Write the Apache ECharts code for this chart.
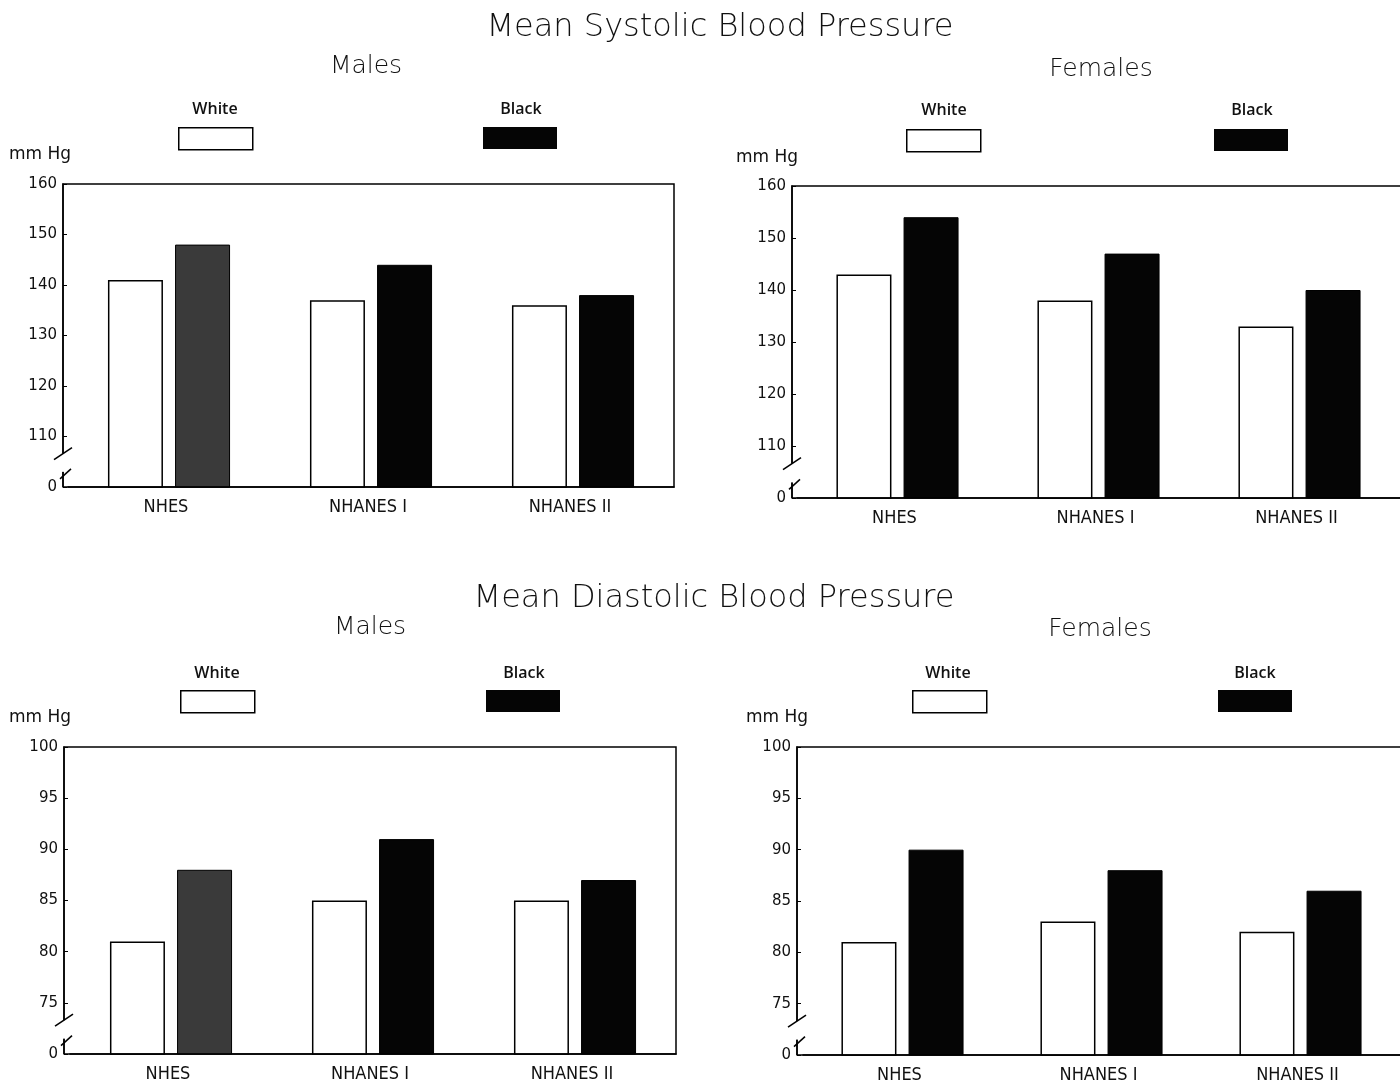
<!DOCTYPE html>
<html>
<head>
<meta charset="utf-8">
<script src="https://cdn.jsdelivr.net/npm/echarts@6/dist/echarts.min.js"></script>
<style>
html,body{margin:0;padding:0;background:#fff;}
#c{width:1400px;height:1084px;}
</style>
</head>
<body>
<div id="c"></div>
<script>
// ---- data ----
const categories = ['NHES', 'NHANES I', 'NHANES II'];
const seriesNames = ['White', 'Black'];
const sysMaleWhite = [141, 137, 136];
const sysMaleBlack = [148, 144, 138];
const sysFemaleWhite = [143, 138, 133];
const sysFemaleBlack = [154, 147, 140];
const diaMaleWhite = [81, 85, 85];
const diaMaleBlack = [88, 91, 87];
const diaFemaleWhite = [81, 83, 82];
const diaFemaleBlack = [90, 88, 86];
const sysTickLabels = ['0', '110', '120', '130', '140', '150', '160'];
const diaTickLabels = ['0', '75', '80', '85', '90', '95', '100'];

// ---- layout ----
// frame = drawn box; plot = category domain (starts a little right of the y axis)
const panels = [
  {frame: {l: 63, t: 184, r: 674, b: 487}, plotLeft: 68, plotWidth: 606, min: 100, max: 160, interval: 10, ticks: sysTickLabels, white: sysMaleWhite, black: sysMaleBlack, male: true},
  {frame: {l: 792, t: 186, r: 1407, b: 498}, plotLeft: 797, plotWidth: 609, min: 100, max: 160, interval: 10, ticks: sysTickLabels, white: sysFemaleWhite, black: sysFemaleBlack, male: false},
  {frame: {l: 64, t: 747, r: 676, b: 1054}, plotLeft: 70, plotWidth: 606, min: 70, max: 100, interval: 5, ticks: diaTickLabels, white: diaMaleWhite, black: diaMaleBlack, male: true},
  {frame: {l: 797, t: 747, r: 1409, b: 1055}, plotLeft: 803, plotWidth: 605, min: 70, max: 100, interval: 5, ticks: diaTickLabels, white: diaFemaleWhite, black: diaFemaleBlack, male: false}
];

const chart = echarts.init(document.getElementById('c'), null, {renderer: 'canvas'});

const grids = [], xAxes = [], yAxes = [], series = [], frames = [];
panels.forEach((p, i) => {
  const f = p.frame;
  grids.push({show: false, left: p.plotLeft, top: f.t, width: p.plotWidth, height: f.b - f.t});
  xAxes.push({
    type: 'category', gridIndex: i, data: categories,
    axisLine: {show: true, lineStyle: {color: '#000', width: 1.5}},
    axisTick: {show: false},
    axisLabel: {color: '#111', fontSize: 18, fontFamily: 'Liberation Sans Narrow, DejaVu Sans Condensed, sans-serif', margin: 11, padding: [0, 6, 0, 0]}
  });
  yAxes.push({
    type: 'value', gridIndex: i, min: p.min, max: p.max, interval: p.interval,
    offset: p.plotLeft - f.l,
    axisLine: {show: true, lineStyle: {color: '#000', width: 1.5}},
    axisTick: {show: true, inside: true, length: 4, lineStyle: {color: '#000'}},
    splitLine: {show: false},
    axisLabel: {
      color: '#111', fontSize: 15, fontFamily: 'DejaVu Sans, sans-serif', margin: 6,
      formatter: (v) => p.ticks[Math.round((v - p.min) / p.interval)]
    }
  });
  series.push({
    type: 'bar', name: seriesNames[0], xAxisIndex: i, yAxisIndex: i,
    data: p.white, barWidth: 55, barGap: '22%',
    itemStyle: {color: '#fff', borderColor: '#000', borderWidth: 1.5}
  });
  series.push({
    type: 'bar', name: seriesNames[1], xAxisIndex: i, yAxisIndex: i,
    data: p.black.map((v, j) => (p.male && j === 0) ? {value: v, itemStyle: {color: '#3a3a3a'}} : v),
    barWidth: 55, barGap: '22%',
    itemStyle: {color: '#050505', borderColor: '#000', borderWidth: 1}
  });
  frames.push({type: 'polyline', z: 99, shape: {points: [[f.l, f.b], [f.l, f.t], [f.r, f.t], [f.r, f.b], [f.l, f.b]]}, style: {stroke: '#000', lineWidth: 1.5, fill: null}});
});

// legends (boxes); labels drawn as text above
const legendBoxes = [
  {name: 'White', left: 178, top: 127}, {name: 'Black', left: 483, top: 127},
  {name: 'White', left: 906, top: 129}, {name: 'Black', left: 1214, top: 129},
  {name: 'White', left: 180, top: 690}, {name: 'Black', left: 486, top: 690},
  {name: 'White', left: 912, top: 690}, {name: 'Black', left: 1218, top: 690}
];
const legends = legendBoxes.map(b => ({
  left: b.left, top: b.top, padding: 0, itemWidth: 74, itemHeight: 22, icon: 'rect',
  selectedMode: false, formatter: () => '',
  data: [{name: b.name, itemStyle: b.name === 'White' ? {color: '#fff', borderColor: '#000', borderWidth: 1.5} : {color: '#050505', borderWidth: 0}}]
}));

const titleFont = '300 32px "DejaVu Sans", sans-serif';
const subFont = '300 25px "DejaVu Sans", sans-serif';
const legFont = '600 16px "Open Sans", "DejaVu Sans", sans-serif';
const unitFont = '17px "DejaVu Sans", sans-serif';
function txt(text, x, y, font, align) {
  return {type: 'text', x: x, y: y, z: 100, style: {text: text, font: font, fill: '#111', align: align || 'center', verticalAlign: 'middle'}};
}
const texts = [
  txt('Mean Systolic Blood Pressure', 720, 28, titleFont),
  txt('Males', 366, 66, subFont),
  txt('Females', 1101, 69, subFont),
  txt('White', 215, 109, legFont), txt('Black', 521, 109, legFont),
  txt('White', 944, 110, legFont), txt('Black', 1252, 110, legFont),
  txt('mm Hg', 9, 155, unitFont, 'left'),
  txt('mm Hg', 736, 158, unitFont, 'left'),
  txt('Mean Diastolic Blood Pressure', 714, 599, titleFont),
  txt('Males', 370, 627, subFont),
  txt('Females', 1100, 629, subFont),
  txt('White', 217, 673, legFont), txt('Black', 524, 673, legFont),
  txt('White', 948, 673, legFont), txt('Black', 1255, 673, legFont),
  txt('mm Hg', 9, 718, unitFont, 'left'),
  txt('mm Hg', 746, 718, unitFont, 'left')
];

chart.setOption({
  animation: false,
  backgroundColor: '#fff',
  grid: grids, xAxis: xAxes, yAxis: yAxes, series: series,
  legend: legends,
  graphic: {elements: texts.concat(frames)}
});

// axis break marks, placed through the axis scale
const breaks = [];
panels.forEach((p, i) => {
  const range = p.max - p.min;
  const yUp = chart.convertToPixel({yAxisIndex: i}, p.min + range * 0.11);
  const yLo = chart.convertToPixel({yAxisIndex: i}, p.min + range * 0.05);
  const x = p.frame.l;
  breaks.push({type: 'rect', z: 101, shape: {x: x - 2, y: yUp, width: 4, height: yLo - yUp}, style: {fill: '#fff'}});
  breaks.push({type: 'line', z: 102, shape: {x1: x - 9, y1: yUp + 6, x2: x + 9, y2: yUp - 6}, style: {stroke: '#000', lineWidth: 1.5}});
  breaks.push({type: 'line', z: 102, shape: {x1: x - 3, y1: yLo + 7, x2: x + 8, y2: yLo - 3}, style: {stroke: '#000', lineWidth: 1.5}});
});
chart.setOption({graphic: {elements: texts.concat(frames, breaks)}});
</script>
</body>
</html>
